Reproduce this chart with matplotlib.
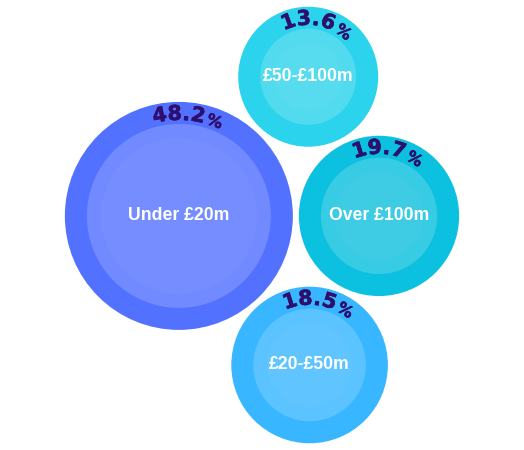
import numpy as np
import matplotlib
matplotlib.use("Agg")
import matplotlib.pyplot as plt
from matplotlib.patches import Circle
from matplotlib.font_manager import FontProperties
import matplotlib.patheffects as pe

# data
categories = ['Under £20m', '£20-£50m', '£50-£100m', 'Over £100m']
shares = [48.2, 18.5, 13.6, 19.7]
colors = ['#5271FF', '#38B6FF', '#2CD3EC', '#0CC0DF']

W, H = 524, 450
R_RANGE = (70, 114)   # sqrt scale range in pixels
GAP = 6
RING = 22
PCT_COLOR = '#2E0F6E'


def radius_scale(v):
    s = np.sqrt(np.asarray(v, dtype=float))
    lo, hi = np.sqrt(min(shares)), np.sqrt(max(shares))
    return R_RANGE[0] + (s - lo) / (hi - lo) * (R_RANGE[1] - R_RANGE[0])


def tangent_point(p1, r1, p2, r2, r, side):
    """Centre of a circle of radius r touching circles 1 and 2 (with gap)."""
    a = r1 + r + GAP
    b = r2 + r + GAP
    d_vec = np.array(p2) - np.array(p1)
    d = np.hypot(*d_vec)
    u = d_vec / d
    n = np.array([-u[1], u[0]]) * side
    x = (a**2 - b**2 + d**2) / (2 * d)
    y = np.sqrt(max(a**2 - x**2, 0))
    return np.array(p1) + u * x + n * y


# simple packing: biggest first, second to its right, third below, fourth above
radii = radius_scale(shares)
order = np.argsort(shares)[::-1]
pos = {}
i0, i1, i2, i3 = order
pos[i0] = np.array([0.0, 0.0])
pos[i1] = np.array([radii[i0] + radii[i1] + GAP, 0.0])
pos[i2] = tangent_point(pos[i0], radii[i0], pos[i1], radii[i1], radii[i2], 1)    # y down = below
pos[i3] = tangent_point(pos[i0], radii[i0], pos[i1], radii[i1], radii[i3], -1)   # above

# centre the whole group in the figure
left = min(pos[i][0] - radii[i] for i in range(4))
right = max(pos[i][0] + radii[i] for i in range(4))
top = min(pos[i][1] - radii[i] for i in range(4))
bottom = max(pos[i][1] + radii[i] for i in range(4))
shift = np.array([W / 2 - (left + right) / 2, H / 2 - (top + bottom) / 2])
for i in range(4):
    pos[i] = pos[i] + shift

fig = plt.figure(figsize=(W / 100, H / 100), dpi=100)
ax = fig.add_axes([0, 0, 1, 1])
ax.set_xlim(0, W)
ax.set_ylim(H, 0)
ax.set_aspect('equal')
ax.axis('off')

renderer = fig.canvas.get_renderer()
fp_num = FontProperties(family='DejaVu Sans', weight='bold', size=14.8)
fp_pct = FontProperties(family='DejaVu Sans', weight='bold', size=11.5)
thicken = [pe.withStroke(linewidth=0.4, foreground=PCT_COLOR)]


def char_width(ch, fp):
    w, h, d = renderer.get_text_width_height_descent(ch, fp, ismath=False)
    return w


def arc_text(cx, cy, rb, s, fp, spacing, start):
    """Place characters of s along the top of a circle, starting at arc length start."""
    pos_s = start
    for ch in s:
        w = char_width(ch, fp)
        mid = pos_s + w / 2
        th = mid / rb
        x = cx + rb * np.sin(th)
        y = cy - rb * np.cos(th)
        ax.text(x, y, ch, fontproperties=fp, color=PCT_COLOR, ha='center', va='baseline',
                rotation=-np.degrees(th), rotation_mode='anchor', zorder=5,
                path_effects=thicken)
        pos_s += w + spacing
    return pos_s


for i, (cat, v, col) in enumerate(zip(categories, shares, colors)):
    cx, cy = pos[i]
    R = radii[i]
    ax.add_patch(Circle((cx, cy), R, color=col, lw=0, zorder=1))
    ax.add_patch(Circle((cx, cy), R - RING, color='white', alpha=0.18, lw=0, zorder=2))
    ax.add_patch(Circle((cx, cy), R - RING - 14, color='white', alpha=0.03, lw=0, zorder=3))
    ax.text(cx, cy, cat, color='white', fontsize=12.7, fontweight='bold',
            family='Liberation Sans', ha='center', va='center', zorder=4)

    num = f'{v:.1f}'
    spacing = 0.0
    total = sum(char_width(c, fp_num) for c in num)
    rb = R - 18
    end = arc_text(cx, cy, rb, num, fp_num, spacing, -total / 2)
    arc_text(cx, cy, rb, '%', fp_pct, 0, end + 1.5)

fig.savefig('out.png', dpi=100)
